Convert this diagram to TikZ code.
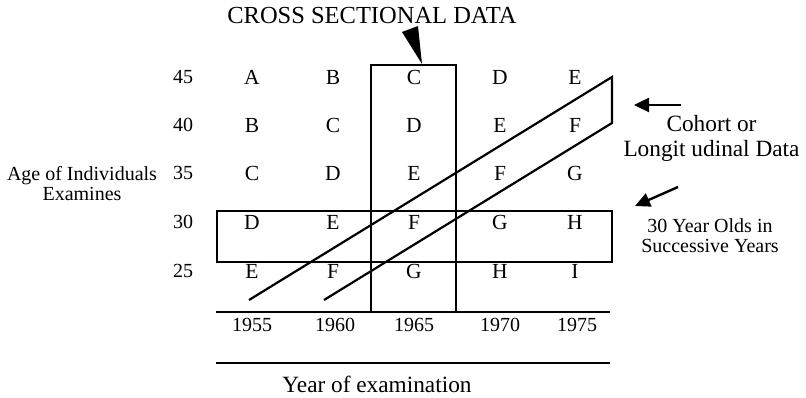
\documentclass[tikz,border=0pt]{standalone}
\usepackage{fontspec}
\setmainfont{Liberation Serif}
\usetikzlibrary{arrows.meta}
\begin{document}
\begin{tikzpicture}[x=1pt,y=-1pt,
  lbl/.style={inner sep=0pt,font=\fontsize{20}{23}\selectfont},
  cell/.style={inner sep=0pt,font=\fontsize{21.5}{24}\selectfont},
  big/.style={inner sep=0pt,font=\fontsize{23.3}{25}\selectfont},
  ttl/.style={inner sep=0pt,font=\fontsize{24.5}{28}\selectfont},
  boxline/.style={line width=2.2pt},
  rule/.style={line width=2.2pt},
  ptr/.style={line width=2.4pt,-{Triangle[length=15pt,width=14pt]}}]
\useasboundingbox (0,0) rectangle (806,398);
% title
\node[ttl] (title) at (372,16) {CROSS SECTIONAL DATA};
\fill (402,32) -- (418,26) -- (422,64) -- cycle;
% row labels
\node[lbl] (r45) at (183,77) {45};
\node[lbl] (r40) at (183,125) {40};
\node[lbl] (r35) at (183,173) {35};
\node[lbl] (r30) at (183,222) {30};
\node[lbl] (r25) at (183,271) {25};
\node[lbl,align=center] (age) at (82,184) {Age of Individuals\\[-3pt]Examines};
% grid letters
\foreach \r/\y/\a/\b/\c/\d/\e in {45/77/A/B/C/D/E, 40/125/B/C/D/E/F, 35/173/C/D/E/F/G, 30/222/D/E/F/G/H, 25/271/E/F/G/H/I}{
  \node[cell] (g\r a) at (252,\y) {\a};
  \node[cell] (g\r b) at (333,\y) {\b};
  \node[cell] (g\r c) at (414,\y) {\c};
  \node[cell] (g\r d) at (500,\y) {\d};
  \node[cell] (g\r e) at (575,\y) {\e};
}
% years
\node[lbl] (y55) at (252,325) {1955};
\node[lbl] (y60) at (335,325) {1960};
\node[lbl] (y65) at (414,325) {1965};
\node[lbl] (y70) at (500,325) {1970};
\node[lbl] (y75) at (577,325) {1975};
\node[big] (xlab) at (377,384) {Year of examination};
% rules
\draw[rule] (216,312) -- (610,312);
\draw[rule] (216,363) -- (610,363);
% cross sectional box
\draw[boxline] (371,312) -- (371,65) -- (456,65) -- (456,312);
% 30 year box
\draw[boxline] (217,211) rectangle (612,262);
% cohort band
\draw[boxline,line join=miter] (249,300) -- (612,77) -- (612,123) -- (324,300);
% side labels
\node[big,align=center] (coh) at (711.5,138) {Cohort or\\Longit udinal Data};
\node[lbl,align=center] (thirty) at (710,236) {30 Year Olds in\\[-3pt]Successive Years};
\coordinate (a1s) at (681,105);
\coordinate (a1e) at (634,105);
\draw[ptr] (a1s) -- (a1e);
\coordinate (a2s) at (678,187);
\coordinate (a2e) at (635,206);
\draw[ptr] (a2s) -- (a2e);
\end{tikzpicture}
\end{document}
